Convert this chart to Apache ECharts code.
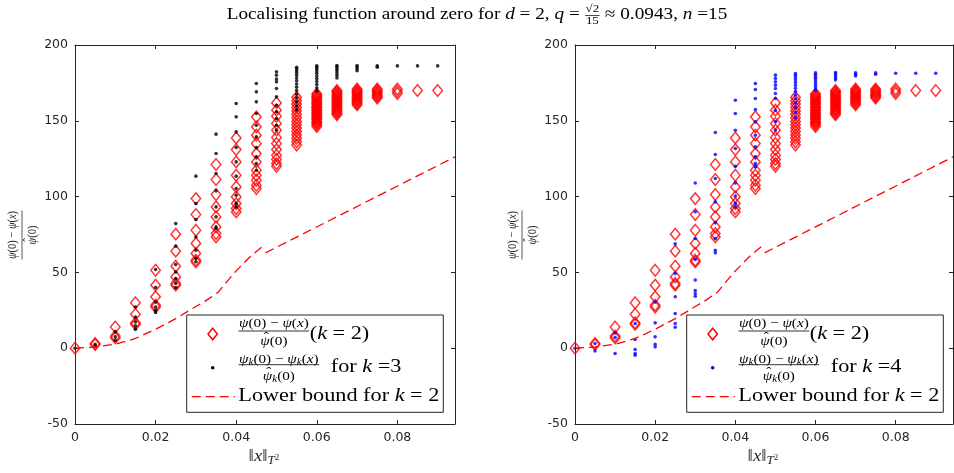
<!DOCTYPE html>
<html><head><meta charset="utf-8">
<script src="https://cdn.jsdelivr.net/npm/echarts@6/dist/echarts.min.js"></script>
<style>html,body{margin:0;padding:0;background:#fff}#c{width:954px;height:473px}</style>
</head><body><div id="c"></div>
<script>
// ---------------- data ----------------
const xCols = [0, 0.005, 0.01, 0.015, 0.02, 0.025, 0.03, 0.035, 0.04, 0.045, 0.05, 0.055, 0.06, 0.065, 0.07, 0.075, 0.08, 0.085, 0.09];
const redK2 = [
  [0],
  [3.1, 2.4],
  [14, 8, 6.8],
  [30, 22.4, 16.7, 15.8],
  [51.4, 41.6, 33.9, 28.4, 27.2],
  [75.2, 64, 54.1, 47, 42.7, 41.6],
  [98.7, 88.2, 77.8, 69.1, 62.5, 58, 56.9],
  [121.2, 111.3, 101.4, 93.2, 86.6, 80, 75.6, 73.4],
  [138.7, 131, 122.9, 114.1, 106.4, 99.8, 95.4, 92.1, 89.9],
  [152.6, 146, 140.5, 135, 128.4, 122.9, 117.4, 114.1, 110.8, 107.5, 105.3],
  [161.8, 157, 153, 148.2, 143.8, 139, 135, 131, 127.3, 124.5, 121.8, 120],
  [165.5, 163.2, 161, 158.8, 156.5, 154.3, 152, 149.6, 147.4, 145.2, 143, 140.6, 138.5, 136.2, 134],
  [167.8, 167.1, 166.1, 165.5, 164.4, 163.9, 162.8, 162.1, 161.2, 160.7, 159.5, 158.9, 158.1, 157.2, 156.6, 155.4, 154.9, 153.8, 153.2, 152.3, 151.5, 150.8, 149.7, 149.1, 148.2, 147.4, 146.2],
  [170, 169.3, 168.4, 167.8, 166.9, 166.1, 165.2, 164.6, 163.7, 162.9, 162.1, 161.3, 160.4, 159.8, 158.9, 158.1, 157.2, 156.5, 155.6, 154.8, 154],
  [171, 170.2, 169.4, 168.6, 167.9, 167.1, 166.2, 165.5, 164.6, 163.8, 163.1, 162.2, 161.4, 160.5],
  [171, 170.1, 169.3, 168.4, 167.5, 166.7, 165.8, 165],
  [171, 169.5, 168],
  [170],
  [170]
];
const blackK3 = [
  [0],
  [2.6, 1.8],
  [10.8, 7.5, 5.3],
  [27.2, 20.6, 17.3, 14.7, 12.5],
  [51.9, 40, 30.5, 27.2, 25, 23.5],
  [82.2, 67.3, 55.2, 50.3, 46, 42.7, 40],
  [113.5, 95.4, 84.9, 73.4, 64.6, 59.2, 57],
  [141.2, 128.4, 115.2, 103.8, 93.2, 86.6, 80, 79],
  [161.4, 152.6, 142.7, 132.4, 122.9, 113.5, 105.3, 100.9, 95.4, 93.2],
  [174.6, 169.1, 162.5, 154.8, 147.1, 139.4, 132.4, 126.2, 121.8, 117.4],
  [182.3, 180.1, 177.5, 175.7, 171.3, 165.8, 160.3, 155.9, 151.5, 147.1, 143.8],
  [185.3, 184.3, 183, 181.6, 180, 178.2, 176.4, 174.3, 172.2, 170, 167.6, 165.2, 162.5, 159.8, 157.2],
  [186.3, 185.4, 184.2, 182.8, 181.3, 179.6, 177.8, 175.9, 173.9, 171.8, 169.6],
  [186.5, 185.6, 184.4, 183.1, 181.6, 180, 178.3],
  [186.5, 185.5, 184.3, 183],
  [186.3, 185.4],
  [186.2],
  [186.2],
  [186.2]
];
const blueK4 = [
  [0],
  [3.1, -1.8],
  [10, 7, -3.5],
  [16.3, 5.7, -0.9, -3.5, -4.6],
  [30.5, 16.7, 7.5, 2.6, 0.9],
  [68.8, 49.3, 33.9, 22.9, 16.3, 13.8],
  [109, 90, 72.4, 58.5, 45, 38, 36, 34.3],
  [142.3, 127.8, 111.9, 96.5, 82.7, 72.3, 64.6, 62.9],
  [163.6, 154.8, 143.8, 131.7, 120, 109, 100.3, 95.4, 93.2],
  [174.6, 170.6, 164.7, 157.4, 149.3, 140.5, 132.8, 126.2, 121.8, 119.6],
  [180.1, 177.9, 175.7, 173.5, 171.3, 168, 164.7, 157, 149.3, 143.8],
  [181.2, 180, 178.6, 177, 175.2, 173.4, 171.4, 169.3, 167, 164.5, 161.8, 158.8, 155.5, 152],
  [181.6, 180.5, 179.3, 178, 176.6, 175, 173.4, 171.8, 170.2],
  [181.8, 180.8, 179.6, 178.3, 177],
  [181.7, 180.7, 179.6],
  [181.6, 180.7],
  [181.4],
  [181.4],
  [181.4]
];
const boundCurveX = [0, 0.005, 0.01, 0.015, 0.02, 0.025, 0.03, 0.0327, 0.0356, 0.0375, 0.04, 0.0434, 0.0466];
const boundCurveY = [0, 0.8, 2.6, 6.4, 12.5, 19.5, 27.5, 31.7, 37.1, 43.3, 51, 60.2, 67.3];
const boundLineX = [0.0473, 0.0943];
const boundLineY = [62.9, 126.2];
const xTicks = [0, 0.02, 0.04, 0.06, 0.08];
const yTicks = [-50, 0, 50, 100, 150, 200];
const xMax = 0.0943;

// ---------------- helpers ----------------
function pts(cols) { const o = []; cols.forEach((vals, i) => vals.forEach(v => o.push([xCols[i], v]))); return o; }
function zip(a, b) { return a.map((v, i) => [v, b[i]]); }

const SERIF = '"Liberation Serif", "Times New Roman", serif';
const mctx = document.createElement('canvas').getContext('2d');
function S(s, sz, it, dy, hat) { return { s, sz, it: !!it, dy: dy || 0, hat: !!hat }; }
function fnt(g) { return (g.it ? 'italic ' : '') + g.sz + 'px ' + SERIF; }
function segW(g) { mctx.font = fnt(g); return mctx.measureText(g.s).width; }
function runW(run, sx) { return run.reduce((a, g) => a + segW(g) * sx, 0); }
function drawRun(els, run, x, y, sx, color) {
  let cx = x;
  for (const g of run) {
    const w = segW(g) * sx;
    els.push({ type: 'text', x: cx, y: y + g.dy, scaleX: sx, silent: true, z: 100,
      style: { text: g.s, font: fnt(g), fill: color, textAlign: 'left', textVerticalAlign: 'middle' } });
    if (g.hat) {
      els.push({ type: 'text', x: cx + w / 2 + 0.1 * g.sz, y: y + g.dy - 0.3 * g.sz, scaleX: sx, silent: true, z: 100,
        style: { text: 'ˆ', font: g.sz + 'px ' + SERIF, fill: color, textAlign: 'center', textVerticalAlign: 'middle' } });
    }
    cx += w;
  }
  return cx;
}
function itemW(it, sx) {
  if (it.frac) return Math.max(runW(it.num, sx), runW(it.den, sx)) + 2 * (it.pad || 1);
  return segW(it) * sx;
}
function rowW(items, sx) { return items.reduce((a, it) => a + itemW(it, sx), 0); }
function drawRow(els, items, x, y, sx, color) {
  let cx = x;
  for (const it of items) {
    const w = itemW(it, sx);
    if (it.frac) {
      const wn = runW(it.num, sx), wd = runW(it.den, sx);
      drawRun(els, it.num, cx + (w - wn) / 2, y + it.nDy, sx, color);
      drawRun(els, it.den, cx + (w - wd) / 2, y + it.dDy, sx, color);
      els.push({ type: 'line', silent: true, z: 100,
        shape: { x1: cx + 0.5, y1: y + it.bDy, x2: cx + w - 0.5, y2: y + it.bDy },
        style: { stroke: color, lineWidth: it.lw || 0.8 } });
    } else {
      drawRun(els, [it], cx, y, sx, color);
    }
    cx += w;
  }
  return cx;
}

// ---------------- layout ----------------
const grids = [
  { left: 75, top: 45, width: 380, height: 379 },
  { left: 575, top: 45, width: 378, height: 379 }
];
const axisCol = '#262626';
const tickFont = { fontFamily: 'DejaVu Sans', fontSize: 12.5, color: axisCol };

const xAxes = [], yAxes = [];
grids.forEach((g, gi) => {
  ['bottom', 'top'].forEach(pos => {
    xAxes.push({
      gridIndex: gi, type: 'value', position: pos, min: 0, max: xMax, interval: 0.02,
      axisLine: { show: true, onZero: false, lineStyle: { color: axisCol, width: 1 } },
      axisTick: { show: true, inside: true, length: 4, customValues: xTicks, lineStyle: { color: axisCol } },
      axisLabel: Object.assign({ show: pos === 'bottom', customValues: xTicks, margin: 7,
        formatter: v => (v === 0 ? '0' : v.toFixed(2)) }, tickFont),
      splitLine: { show: false }
    });
  });
  ['left', 'right'].forEach(pos => {
    yAxes.push({
      gridIndex: gi, type: 'value', position: pos, min: -50, max: 200, interval: 50,
      axisLine: { show: true, onZero: false, lineStyle: { color: axisCol, width: 1 } },
      axisTick: { show: true, inside: true, length: 4, lineStyle: { color: axisCol } },
      axisLabel: Object.assign({ show: pos === 'left', margin: 7 }, tickFont),
      splitLine: { show: false }
    });
  });
});

const DIA = [9.5, 11.5];
const redPts = pts(redK2);
const series = [];
[[blackK3, '#000000'], [blueK4, '#0000ff']].forEach(([cols, col], gi) => {
  const xi = gi * 2, yi = gi * 2;
  series.push({ type: 'scatter', xAxisIndex: xi, yAxisIndex: yi, data: redPts, symbol: 'diamond',
    symbolSize: DIA, z: 2,
    itemStyle: { color: 'rgba(0,0,0,0)', borderColor: '#ff0000', borderWidth: 1.5 } });
  series.push({ type: 'scatter', xAxisIndex: xi, yAxisIndex: yi, data: pts(cols), symbol: 'circle',
    symbolSize: 3.6, z: 3, itemStyle: { color: col } });
  [zip(boundCurveX, boundCurveY), zip(boundLineX, boundLineY)].forEach(d => {
    series.push({ type: 'line', xAxisIndex: xi, yAxisIndex: yi, data: d, showSymbol: false, z: 4,
      smooth: false, lineStyle: { color: '#ff0000', width: 1.3, type: [9, 5] } });
  });
});

// ---------------- text graphics ----------------
const els = [];
// title
const TF = 16.5;
const titleItems = [
  S('Localising function around zero for ', TF), S('d', TF, true), S(' = 2, ', TF), S('q', TF, true), S(' = ', TF),
  { frac: true, num: [S('√2', 11)], den: [S('15', 11)], nDy: -5.5, dDy: 6.5, bDy: 0.5, lw: 0.7, pad: 1 },
  S(' ≈ 0.0943, ', TF), S('n', TF, true), S(' =15', TF)
];
const sxT = 501 / rowW(titleItems, 1);
drawRow(els, titleItems, 477 - rowW(titleItems, sxT) / 2, 15, sxT, '#000');

// legends
const row3 = [S('Lower bound for ', 19), S('k', 19, true), S(' = 2', 19)];
const sxL = 201 / rowW(row3, 1);
const F = 13, FS = 9.5;
const row1 = [
  { frac: true, num: [S('ψ', F, true), S('(0) − ', F), S('ψ', F, true), S('(', F), S('x', F, true), S(')', F)],
    den: [S('ψ', F, true, 0, true), S('(0)', F)], nDy: -7.7, dDy: 10.7, bDy: 0, lw: 0.8, pad: 1 },
  S('(', 19, false, 3), S('k', 19, true, 3), S(' = 2)', 19, false, 3)
];
grids.forEach((g, gi) => {
  const ox = g.left;
  els.push({ type: 'rect', silent: true, z: 90, shape: { x: ox + 111.7, y: 315, width: 256.6, height: 97.3 },
    style: { fill: '#fff', stroke: axisCol, lineWidth: 1 } });
  els.push({ type: 'polygon', silent: true, z: 100,
    shape: { points: [[ox + 137.7, 328.3], [ox + 142.4, 334], [ox + 137.7, 339.7], [ox + 133, 334]] },
    style: { fill: 'none', stroke: '#ff0000', lineWidth: 1.5 } });
  els.push({ type: 'circle', silent: true, z: 100, shape: { cx: ox + 137.7, cy: 367.7, r: 1.8 },
    style: { fill: gi === 0 ? '#000' : '#0000ff' } });
  els.push({ type: 'line', silent: true, z: 100, shape: { x1: ox + 116.7, y1: 396.7, x2: ox + 160, y2: 396.7 },
    style: { stroke: '#ff0000', lineWidth: 1.3, lineDash: [9, 5] } });
  drawRow(els, row1, ox + 163, 331, sxL, '#000');
  const row2 = [
    { frac: true, num: [S('ψ', F, true), S('k', FS, true, 3), S('(0) − ', F), S('ψ', F, true), S('k', FS, true, 3), S('(', F), S('x', F, true), S(')', F)],
      den: [S('ψ', F, true, 0, true), S('k', FS, true, 3), S('(0)', F)], nDy: -5.4, dDy: 12, bDy: 0, lw: 0.8, pad: 1 },
    S('  for ', 19, false, 2), S('k', 19, true, 2), S(gi === 0 ? ' =3' : ' =4', 19, false, 2)
  ];
  drawRow(els, row2, ox + 163, 364.7, sxL, '#000');
  drawRow(els, row3, ox + 163.3, 396, sxL, '#000');

  // x axis label
  const xl = [S('‖', 16.5), S('x', 16.5, true), S('‖', 16.5), S('T', 11.5, true, 4), S('2', 8, false, 0.5)];
  drawRow(els, xl, ox + g.width / 2 - 1 - rowW(xl, 1.14) / 2, 457, 1.14, axisCol);

  // y axis label (rotated fraction); scaleY widens it across the screen x direction
  const kids = [];
  const yl = [{ frac: true, num: [S('ψ', 10.5, true), S('(0) − ', 10.5), S('ψ', 10.5, true), S('(', 10.5), S('x', 10.5, true), S(')', 10.5)],
    den: [S('ψ', 10.5, true, 0, true), S('(0)', 10.5)], nDy: -7.5, dDy: 8.5, bDy: 0, lw: 0.7, pad: 1 }];
  drawRow(kids, yl, -rowW(yl, 1) / 2, 0, 1, axisCol);
  els.push({ type: 'group', x: ox - 53, y: 235, rotation: Math.PI / 2, scaleY: 1.2, children: kids });
});

const chart = echarts.init(document.getElementById('c'), null, { renderer: 'canvas' });
chart.setOption({
  animation: false,
  backgroundColor: '#fff',
  grid: grids,
  xAxis: xAxes,
  yAxis: yAxes,
  series: series,
  graphic: { elements: els }
});
</script>
</body></html>
